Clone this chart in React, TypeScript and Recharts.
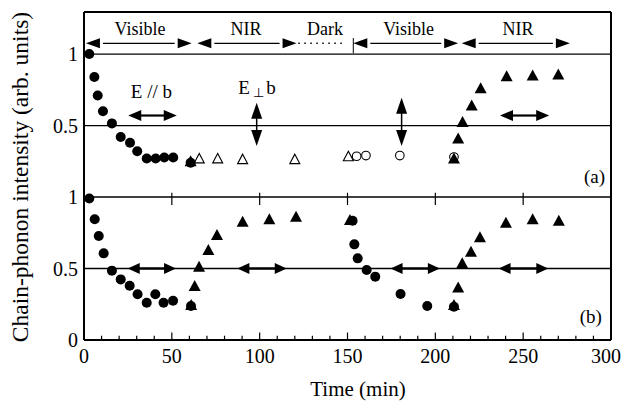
import React from 'react';
import { ScatterChart, Scatter, XAxis, YAxis, ReferenceLine, ReferenceDot, Label } from 'recharts';

const FONT = '"Liberation Serif", "Times New Roman", Times, serif';

// ---- axes ----
const xTicks = [0, 50, 100, 150, 200, 250, 300];
const xMinorTicks = [10, 20, 30, 40, 60, 70, 80, 90, 110, 120, 130, 140, 160, 170, 180, 190, 210, 220, 230, 240, 260, 270, 280, 290];
const xMajorInner = [50, 100, 150, 200, 250];
const dividerTicks = [50, 100, 150, 200, 250];
// panel (a) is stacked one unit above panel (b)
const PANEL_A_OFFSET = 1;
const Y_MAX = 2.294;
const yTicks = [0, 0.5, 1, 1.5, 2];
const yTickLabels = ['0', '0.5', '1', '0.5', '1'];
const gridLevels = [0.5, 1, 1.5, 2];

// ---- panel (a) data ----
const aCircleX = [3, 5.9, 7.8, 10.8, 15.9, 20.9, 26.2, 30.3, 35.7, 40.8, 45.7, 50.8, 60.7];
const aCircleY = [1.0, 0.84, 0.71, 0.6, 0.515, 0.42, 0.38, 0.32, 0.27, 0.27, 0.277, 0.277, 0.24];
const aOpenTriX = [65.6, 76.1, 90.3, 120, 150.5];
const aOpenTriY = [0.27, 0.27, 0.265, 0.265, 0.285];
const aOpenCircleX = [155.2, 160.5, 179.8, 210.6];
const aOpenCircleY = [0.285, 0.29, 0.29, 0.28];
const aTriX = [60.7, 210.6, 213, 215.5, 220.7, 225.8, 240.6, 255.4, 270];
const aTriY = [0.25, 0.27, 0.41, 0.525, 0.64, 0.76, 0.845, 0.85, 0.857];

// ---- panel (b) data ----
const bCircleX = [3, 6.1, 8.4, 11.2, 15.9, 20.9, 26, 30.5, 35.7, 40.6, 45.3, 50.7, 60.9, 152.9, 153.9, 155.8, 160.9, 165.8, 180.2, 195.4, 210.6];
const bCircleY = [0.99, 0.844, 0.727, 0.606, 0.485, 0.424, 0.38, 0.32, 0.26, 0.32, 0.26, 0.275, 0.238, 0.834, 0.669, 0.571, 0.49, 0.443, 0.322, 0.238, 0.233];
const bTriX = [61, 63, 65.5, 70.8, 75.7, 90.3, 105.5, 120.7, 151.4, 210.6, 213, 215.3, 220.3, 225.4, 240.2, 255.4, 270.3];
const bTriY = [0.245, 0.378, 0.513, 0.63, 0.734, 0.827, 0.844, 0.862, 0.84, 0.245, 0.368, 0.536, 0.617, 0.718, 0.82, 0.844, 0.834];

// ---- illumination periods (top row) ----
const periodStarts = [1.1, 64.5, 153.3, 215];
const periodEnds = [61.3, 121, 213, 276.6];
const periodLabels = ['Visible', 'NIR', 'Dark', 'Visible', 'NIR'];
const periodLabelX = [31.9, 92.2, 137.2, 184.8, 247];
const PERIOD_ROW_Y = 2.075;
const PERIOD_LABEL_Y = 2.133;
const darkSpan = [122, 149];
const darkMarkX = 153.3;
const darkMarkY = [2.005, 2.112];

// ---- polarization arrows ----
const bHArrowStart = [24.9, 87.3, 174.5, 236];
const bHArrowEnd = [52.4, 115.4, 202.6, 264.3];
const bHArrowY = 0.5;
const aHArrowStart = [25.2, 236.8];
const aHArrowEnd = [52.8, 264.8];
const aHArrowY = 0.57;
const aVArrowX = [98.3, 180.8];
const aVArrowBottom = [0.357, 0.357];
const aVArrowTop = [0.66, 0.695];

// ---- text annotations ----
const eParX = 38.4, eParY = 0.695;
const ePerpX = 98.5, ePerpY = 0.718;
const panelTags = ['(a)', '(b)'];
const panelTagX = [290.6, 288.5];
const panelTagY = [1.095 - PANEL_A_OFFSET, 0.119];
const panelTagOffset = [PANEL_A_OFFSET, 0];

const pts = (xs: number[], ys: number[], off = 0) => xs.map((x, i) => ({ x, y: ys[i] + off }));

const FilledCircle = (p: any) => <circle cx={p.cx} cy={p.cy} r={5} fill="#000" />;
const OpenCircle = (p: any) => <circle cx={p.cx} cy={p.cy} r={4.3} fill="#fff" stroke="#000" strokeWidth={1.1} />;
const FilledTri = (p: any) => (
  <polygon points={`${p.cx},${p.cy - 6} ${p.cx - 6},${p.cy + 5} ${p.cx + 6},${p.cy + 5}`} fill="#000" />
);
const OpenTri = (p: any) => (
  <polygon points={`${p.cx},${p.cy - 5} ${p.cx - 5},${p.cy + 4.5} ${p.cx + 5},${p.cy + 4.5}`} fill="#fff" stroke="#000" strokeWidth={1.1} />
);

function head(tx: number, ty: number, ux: number, uy: number, len: number, half: number) {
  const bx = tx - ux * len, by = ty - uy * len;
  const nx = -uy, ny = ux;
  return `${tx},${ty} ${bx + nx * half},${by + ny * half} ${bx - nx * half},${by - ny * half}`;
}

const makeArrow = (len: number, half: number, sw: number, gap: number) => (p: any) => {
  const { x1, y1, x2, y2 } = p;
  const dx = x2 - x1, dy = y2 - y1;
  const d = Math.hypot(dx, dy) || 1;
  const ux = dx / d, uy = dy / d;
  const inset = len + gap;
  return (
    <g>
      <line x1={x1 + ux * inset} y1={y1 + uy * inset} x2={x2 - ux * inset} y2={y2 - uy * inset} stroke="#000" strokeWidth={sw} />
      <polygon points={head(x2, y2, ux, uy, len, half)} fill="#000" />
      <polygon points={head(x1, y1, -ux, -uy, len, half)} fill="#000" />
    </g>
  );
};

const periodArrow = makeArrow(14, 5, 1.3, 3);
const bArrow = makeArrow(12, 5.5, 2.4, -1);
const aArrow = makeArrow(13, 5.5, 2.2, -1);
const vArrow = makeArrow(16, 5.5, 1.5, -1);

const textShape = (txt: string, size: number) => (p: any) => (
  <text x={p.cx} y={p.cy} textAnchor="middle" fontFamily={FONT} fontSize={size} fill="#000">{txt}</text>
);

const EPerpShape = (p: any) => (
  <text x={p.cx} y={p.cy} textAnchor="middle" fontFamily={FONT} fontSize={19} fill="#000">
    E<tspan fontSize={13} dy={3}>{'\u2009\u22A5\u2009'}</tspan><tspan dy={-3}>b</tspan>
  </text>
);

const XTitle = (props: any) => {
  const vb = props.viewBox || { x: 76, y: 332, width: 527, height: 30 };
  return (
    <text x={vb.x + vb.width / 2 + 10.5} y={vb.y + 56} textAnchor="middle" fontFamily={FONT} fontSize={21} fill="#000">
      Time (min)
    </text>
  );
};

const YTitle = (props: any) => {
  const vb = props.viewBox || { x: 16, y: 4, width: 60, height: 328 };
  const x = vb.x + 4;
  const y = vb.y + vb.height / 2 + 1;
  return (
    <text x={x} y={y} transform={`rotate(-90, ${x}, ${y})`} textAnchor="middle" fontFamily={FONT} fontSize={23.5} fill="#000">
      Chain-phonon intensity (arb. units)
    </text>
  );
};

export default function App() {
  return (
    <ScatterChart width={613} height={396} margin={{ top: 4, right: 10, bottom: 34, left: 16 }}>
      <XAxis
        type="number"
        dataKey="x"
        domain={[0, 300]}
        ticks={xTicks}
        allowDataOverflow
        tickLine={false}
        axisLine={{ stroke: '#000', strokeWidth: 2 }}
        tickSize={4}
        tickMargin={5}
        height={30}
        tick={{ fill: '#000', fontSize: 20, fontFamily: FONT }}
        label={<Label content={XTitle} />}
      />
      <YAxis
        type="number"
        dataKey="y"
        domain={[0, Y_MAX]}
        ticks={yTicks}
        allowDataOverflow
        tickFormatter={(v: number) => yTickLabels[yTicks.indexOf(v)] ?? ''}
        tickLine={false}
        axisLine={{ stroke: '#000', strokeWidth: 2 }}
        tickSize={0}
        tickMargin={6}
        width={60}
        tick={{ fill: '#000', fontSize: 20, fontFamily: FONT }}
        label={<Label content={YTitle} />}
      />

      {gridLevels.map((v) => (
        <ReferenceLine key={'g' + v} y={v} stroke="#000" strokeWidth={1.3} ifOverflow="visible" />
      ))}
      <ReferenceLine y={Y_MAX} stroke="#000" strokeWidth={2} ifOverflow="visible" />
      <ReferenceLine x={300} stroke="#000" strokeWidth={2} ifOverflow="visible" />

      {xMajorInner.map((v) => (
        <ReferenceLine key={'M' + v} segment={[{ x: v, y: 0 }, { x: v, y: 0.052 }]} stroke="#000" strokeWidth={1.2} ifOverflow="visible" />
      ))}
      {xMinorTicks.map((v) => (
        <ReferenceLine key={'m' + v} segment={[{ x: v, y: 0 }, { x: v, y: 0.03 }]} stroke="#000" strokeWidth={1.2} ifOverflow="visible" />
      ))}
      {dividerTicks.map((v) => (
        <ReferenceLine key={'d' + v} segment={[{ x: v, y: 0.944 }, { x: v, y: 1.03 }]} stroke="#000" strokeWidth={1.2} ifOverflow="visible" />
      ))}

      {/* illumination periods */}
      {periodStarts.map((s, i) => (
        <ReferenceLine key={'p' + i} segment={[{ x: s, y: PERIOD_ROW_Y }, { x: periodEnds[i], y: PERIOD_ROW_Y }]} shape={periodArrow} ifOverflow="visible" />
      ))}
      <ReferenceLine segment={[{ x: darkSpan[0], y: PERIOD_ROW_Y }, { x: darkSpan[1], y: PERIOD_ROW_Y }]} stroke="#000" strokeWidth={1.6} strokeDasharray="1.5 4.5" ifOverflow="visible" />
      <ReferenceLine segment={[{ x: darkMarkX, y: darkMarkY[0] }, { x: darkMarkX, y: darkMarkY[1] }]} stroke="#000" strokeWidth={1} ifOverflow="visible" />
      {periodLabels.map((t, i) => (
        <ReferenceDot key={'pl' + i} x={periodLabelX[i]} y={PERIOD_LABEL_Y} shape={textShape(t, 18)} ifOverflow="visible" />
      ))}

      {/* polarization arrows */}
      {bHArrowStart.map((s, i) => (
        <ReferenceLine key={'bh' + i} segment={[{ x: s, y: bHArrowY }, { x: bHArrowEnd[i], y: bHArrowY }]} shape={bArrow} ifOverflow="visible" />
      ))}
      {aHArrowStart.map((s, i) => (
        <ReferenceLine key={'ah' + i} segment={[{ x: s, y: aHArrowY + PANEL_A_OFFSET }, { x: aHArrowEnd[i], y: aHArrowY + PANEL_A_OFFSET }]} shape={aArrow} ifOverflow="visible" />
      ))}
      {aVArrowX.map((x, i) => (
        <ReferenceLine key={'av' + i} segment={[{ x, y: aVArrowBottom[i] + PANEL_A_OFFSET }, { x, y: aVArrowTop[i] + PANEL_A_OFFSET }]} shape={vArrow} ifOverflow="visible" />
      ))}

      <ReferenceDot x={eParX} y={eParY + PANEL_A_OFFSET} shape={textShape('E // b', 19)} ifOverflow="visible" />
      <ReferenceDot x={ePerpX} y={ePerpY + PANEL_A_OFFSET} shape={EPerpShape} ifOverflow="visible" />
      {panelTags.map((t, i) => (
        <ReferenceDot key={'tag' + i} x={panelTagX[i]} y={panelTagY[i] + panelTagOffset[i]} shape={textShape(t, 19)} ifOverflow="visible" />
      ))}

      <Scatter data={pts(aOpenTriX, aOpenTriY, PANEL_A_OFFSET)} shape={OpenTri} isAnimationActive={false} />
      <Scatter data={pts(aOpenCircleX, aOpenCircleY, PANEL_A_OFFSET)} shape={OpenCircle} isAnimationActive={false} />
      <Scatter data={pts(aCircleX, aCircleY, PANEL_A_OFFSET)} shape={FilledCircle} isAnimationActive={false} />
      <Scatter data={pts(aTriX, aTriY, PANEL_A_OFFSET)} shape={FilledTri} isAnimationActive={false} />
      <Scatter data={pts(bCircleX, bCircleY)} shape={FilledCircle} isAnimationActive={false} />
      <Scatter data={pts(bTriX, bTriY)} shape={FilledTri} isAnimationActive={false} />
    </ScatterChart>
  );
}
